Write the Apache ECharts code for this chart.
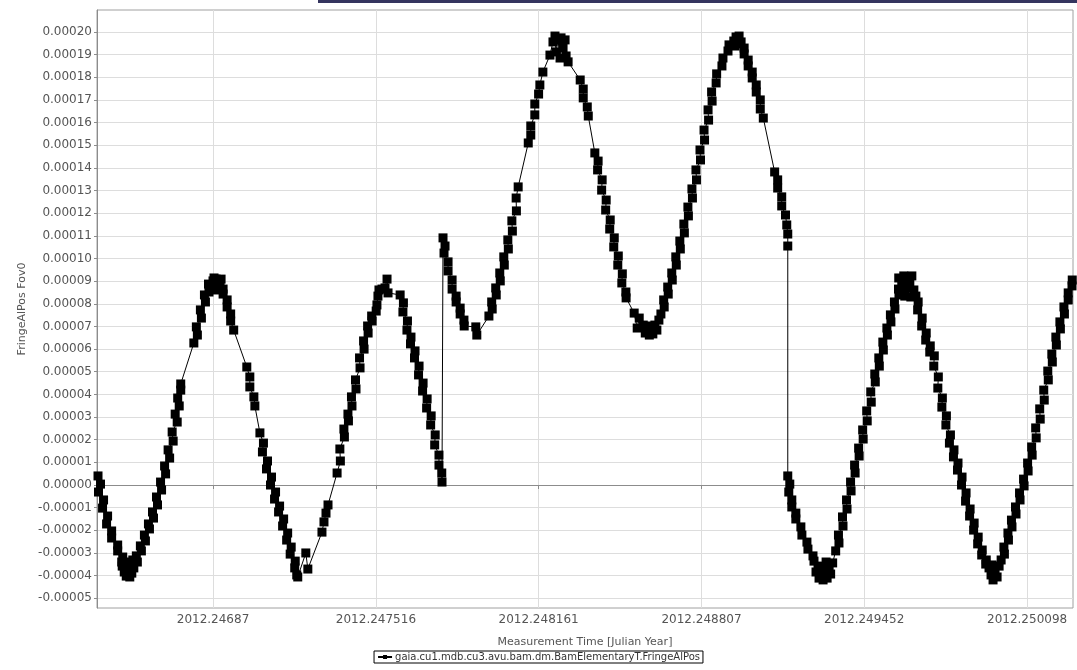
<!DOCTYPE html>
<html>
<head>
<meta charset="utf-8">
<script src="https://cdn.jsdelivr.net/npm/echarts@6/dist/echarts.min.js"></script>
<style>
  html, body { margin: 0; padding: 0; background: #ffffff; }
  #chart { width: 1077px; height: 670px; }
</style>
</head>
<body>
<div id="chart"></div>
<script>
// Sample times are offsets from TIME_ORIGIN in micro-years (1e-6 Julian year);
// FringeAlPos values are stored in units of 1e-5.
const TIME_ORIGIN = 2012.246;
const TIME_UNIT = 1e-6;
const VALUE_UNIT = 1e-5;

const seriesName = 'gaia.cu1.mdb.cu3.avu.bam.dm.BamElementaryT.FringeAlPos';

const xTickLabels = ['2012.24687', '2012.247516', '2012.248161', '2012.248807', '2012.249452', '2012.250098'];
const yTickSteps = [-5, -4, -3, -2, -1, 0, 1, 2, 3, 4, 5, 6, 7, 8, 9, 10, 11, 12, 13, 14, 15, 16, 17, 18, 19, 20];

// [time offset (1e-6 yr), FringeAlPos (1e-5)]
const fringeSamples = [
  [414,0.40],[424,0.04],[416,-0.31],[436,-0.66],[432,-1.02],[452,-1.37],[448,-1.72],[468,-2.03],[468,-2.34],[492,-2.65],
  [492,-2.91],[512,-3.18],[508,-3.40],[510,-3.58],[526,-3.62],[518,-3.84],[530,-3.80],[526,-4.02],[538,-3.40],[534,-3.75],
  [540,-4.06],[552,-3.31],[548,-3.89],[556,-3.66],
  [570,-3.40],[566,-3.13],[586,-2.91],[582,-2.69],[602,-2.47],[598,-2.21],[618,-1.94],[614,-1.72],[634,-1.46],[630,-1.19],
  [650,-0.88],[646,-0.53],[666,-0.22],[662,0.13],[682,0.49],[678,0.84],[698,1.19],[692,1.55],[712,1.94],[708,2.34],
  [728,2.78],[720,3.13],[736,3.49],[730,3.84],[742,4.19],[742,4.46],
  [794,6.27],[808,6.62],[804,6.98],[824,7.37],[820,7.73],[840,8.08],[836,8.39],[856,8.65],[854,8.52],[852,8.87],
  [870,8.74],[870,9.01],[874,9.14],[882,9.09],[886,8.61],[890,8.96],[898,8.83],[902,9.09],[910,8.65],[910,8.43],
  [926,8.17],[926,7.86],[940,7.55],[940,7.24],[952,6.84],
  [1004,5.21],[1016,4.77],[1016,4.33],[1032,3.89],[1036,3.49],
  [1056,2.30],[1070,1.85],[1066,1.46],[1086,1.06],[1082,0.71],[1102,0.35],[1098,0.00],[1118,-0.31],[1114,-0.62],[1134,-0.93],
  [1130,-1.19],[1150,-1.50],[1146,-1.81],[1166,-2.12],[1162,-2.43],[1180,-2.74],[1176,-3.05],[1196,-3.36],[1194,-3.66],[1202,-3.97],
  [1206,-4.06],[1238,-3.00],[1246,-3.71],
  [1302,-2.08],[1310,-1.63],[1318,-1.24],[1326,-0.88],
  [1362,0.53],[1375,1.06],[1373,1.59],[1391,2.12],[1389,2.47],[1407,2.83],[1405,3.13],[1421,3.49],[1419,3.89],[1437,4.24],
  [1435,4.64],[1453,5.17],[1451,5.61],[1469,6.00],[1467,6.36],[1485,6.71],[1483,7.02],[1501,7.24],[1499,7.46],[1517,7.68],
  [1520,7.95],[1524,8.34],[1528,8.61],[1540,8.65],[1552,8.70],[1560,9.09],[1564,8.48],
  [1612,8.39],[1625,8.04],[1623,7.64],[1641,7.24],[1639,6.84],[1655,6.53],[1653,6.23],[1671,5.92],[1669,5.61],[1687,5.25],
  [1685,4.86],[1703,4.50],[1701,4.15],[1719,3.80],[1717,3.40],[1735,3.05],[1733,2.65],[1751,2.21],[1749,1.77],[1766,1.32],
  [1766,0.88],[1777,0.53],[1778,0.13],
  [1782,10.91],[1790,10.55],[1786,10.24],[1802,9.85],[1802,9.45],[1818,9.05],[1818,8.65],[1834,8.34],[1834,8.08],[1850,7.81],
  [1850,7.55],[1865,7.28],[1866,7.02],
  [1912,6.98],[1916,6.62],
  [1964,7.46],[1977,7.77],[1975,8.08],[1993,8.39],[1991,8.70],[2009,9.01],[2007,9.36],[2025,9.71],[2023,10.07],[2041,10.42],
  [2039,10.82],[2057,11.21],[2055,11.66],[2073,12.10],[2072,12.67],[2080,13.16],
  [2120,15.10],[2130,15.45],[2130,15.85],[2146,16.34],[2146,16.82],[2161,17.26],[2166,17.66],[2178,18.23],
  [2206,18.98],[2218,19.56],[2226,19.82],[2230,19.12],[2238,19.65],[2246,18.85],[2250,19.74],[2258,19.29],[2266,19.65],[2270,18.94],
  [2278,18.68],
  [2326,17.88],[2338,17.48],[2338,17.09],[2354,16.69],[2358,16.29],
  [2384,14.66],[2397,14.30],[2395,13.91],[2413,13.47],[2411,13.02],[2429,12.58],[2427,12.14],[2445,11.70],[2443,11.30],[2461,10.91],
  [2459,10.51],[2477,10.11],[2475,9.71],[2493,9.32],[2491,8.92],[2507,8.52],[2508,8.26],
  [2540,7.59],[2552,6.93],[2560,7.37],
  [2576,7.06],[2584,6.71],[2592,7.02],[2600,6.62],[2606,6.89],[2614,6.67],[2622,7.06],[2630,6.84],[2638,7.28],
  [2646,7.55],[2659,7.86],[2657,8.17],[2675,8.43],[2673,8.74],[2691,9.05],[2689,9.36],[2707,9.71],[2705,10.07],[2723,10.42],
  [2721,10.77],[2739,11.13],[2737,11.52],[2755,11.88],[2753,12.27],[2771,12.67],[2769,13.07],[2787,13.47],[2785,13.91],[2803,14.35],
  [2801,14.79],[2819,15.23],[2817,15.67],[2835,16.11],[2833,16.56],[2849,16.95],[2847,17.35],[2865,17.75],[2867,18.15],[2888,18.50],
  [2892,18.85],[2912,19.16],[2916,19.43],[2935,19.60],[2940,19.38],[2944,19.78],[2956,19.82],[2960,19.47],
  [2964,19.56],[2976,19.29],[2976,19.03],[2992,18.76],[2992,18.50],[3008,18.23],[3008,17.97],[3024,17.66],[3024,17.35],[3040,17.00],
  [3040,16.60],[3052,16.20],
  [3097,13.82],[3109,13.47],[3109,13.11],[3125,12.72],[3125,12.32],[3140,11.92],[3145,11.48],[3149,11.08],[3149,10.55],
  [3149,0.40],
  [3157,0.04],[3153,-0.31],[3165,-0.66],[3165,-0.97],[3181,-1.24],[3181,-1.50],[3201,-1.85],[3205,-2.21],[3225,-2.52],[3229,-2.83],
  [3249,-3.13],[3253,-3.36],[3269,-3.58],[3261,-3.84],[3273,-4.11],[3281,-3.75],[3289,-4.19],[3297,-3.89],[3301,-3.40],[3305,-4.11],
  [3313,-3.66],[3319,-3.93],[3327,-3.44],
  [3339,-2.91],[3352,-2.56],[3350,-2.21],[3368,-1.81],[3366,-1.41],[3384,-1.06],[3382,-0.66],[3400,-0.26],[3398,0.13],[3416,0.53],
  [3414,0.88],[3432,1.28],[3430,1.63],[3448,2.03],[3446,2.43],[3464,2.83],[3462,3.27],[3480,3.66],[3478,4.11],[3496,4.55],
  [3494,4.90],[3512,5.25],[3510,5.61],[3528,5.96],[3526,6.31],[3544,6.62],[3542,6.93],[3558,7.20],[3556,7.51],[3574,7.77],
  [3572,8.08],[3590,8.39],[3588,8.65],
  [3589,9.14],[3601,8.92],[3609,9.23],[3613,8.34],[3617,8.70],[3625,9.18],[3633,8.87],[3637,8.30],[3641,9.23],[3649,8.61],
  [3657,8.34],
  [3666,8.08],[3664,7.73],[3682,7.37],[3680,7.02],[3698,6.71],[3696,6.40],[3714,6.14],[3712,5.87],[3730,5.70],[3728,5.25],
  [3746,4.77],[3744,4.28],[3762,3.84],[3760,3.44],[3778,3.05],[3776,2.65],[3794,2.21],[3790,1.85],[3808,1.55],[3806,1.24],
  [3824,0.97],[3822,0.66],[3840,0.35],[3838,0.00],[3856,-0.35],[3854,-0.71],[3872,-1.06],[3870,-1.37],[3888,-1.68],[3886,-1.99],
  [3904,-2.30],[3902,-2.60],[3920,-2.87],[3918,-3.09],[3936,-3.31],[3934,-3.49],[3947,-3.66],
  [3955,-3.97],[3959,-3.53],[3963,-4.19],[3971,-3.80],[3979,-4.06],[3987,-3.58],
  [3995,-3.31],[4008,-3.05],[4006,-2.74],[4024,-2.43],[4022,-2.12],[4038,-1.85],[4036,-1.55],[4054,-1.28],[4052,-0.97],[4070,-0.66],
  [4068,-0.35],[4086,-0.04],[4084,0.26],[4102,0.62],[4100,0.97],[4118,1.32],[4116,1.68],[4134,2.08],[4132,2.52],[4150,2.91],
  [4148,3.36],[4166,3.75],[4164,4.19],[4182,4.64],[4180,5.03],[4198,5.43],[4196,5.78],[4214,6.18],[4212,6.53],[4230,6.89],
  [4228,7.20],[4246,7.55],[4244,7.86],[4261,8.17],[4261,8.48],[4276,8.79],[4277,9.05]
];

const seriesData = fringeSamples.map(([t, v]) => [TIME_ORIGIN + t * TIME_UNIT, v * VALUE_UNIT]);
const xTickValues = xTickLabels.map(Number);
const yTickValues = yTickSteps.map(s => s * VALUE_UNIT);

const FONT = 'DejaVu Sans';
const labelColor = '#555555';
const gridColor = '#dddddd';
const axisColor = '#8c8c8c';

const chart = echarts.init(document.getElementById('chart'), null, { renderer: 'canvas' });

chart.setOption({
  animation: false,
  backgroundColor: '#ffffff',
  textStyle: { fontFamily: FONT },
  graphic: [{
    type: 'rect',
    left: 318, top: 0,
    shape: { width: 759, height: 3 },
    style: { fill: '#35355f' },
    silent: true
  }],
  grid: {
    left: 97, right: 4, top: 10, bottom: 62,
    show: true,
    borderColor: '#a0a0a0',
    borderWidth: 1,
    backgroundColor: '#ffffff'
  },
  legend: {
    data: [seriesName],
    left: 'center',
    top: 651,
    padding: [1, 3, 1, 3],
    borderColor: '#000000',
    borderWidth: 1,
    borderRadius: 0,
    itemWidth: 14,
    itemHeight: 5,
    itemGap: 4,
    textStyle: { fontFamily: FONT, fontSize: 10, color: '#333333', padding: [0, 0, 0, -2] }
  },
  xAxis: {
    type: 'value',
    min: 2012.24641,
    max: 2012.25028,
    name: 'Measurement Time [Julian Year]',
    nameLocation: 'middle',
    nameGap: 29,
    nameTextStyle: { fontFamily: FONT, fontSize: 11, color: labelColor },
    axisLine: { show: true, lineStyle: { color: axisColor } },
    axisTick: { show: true, customValues: xTickValues, inside: false, length: 4, lineStyle: { color: axisColor } },
    axisLabel: {
      customValues: xTickValues,
      fontFamily: FONT, fontSize: 12, color: labelColor, margin: 6,
      formatter: v => {
        const i = xTickValues.findIndex(x => Math.abs(x - v) < 1e-7);
        return i >= 0 ? xTickLabels[i] : '';
      }
    },
    splitLine: { show: true, customValues: xTickValues, lineStyle: { color: gridColor, width: 1 } }
  },
  yAxis: {
    type: 'value',
    min: -5.43e-5,
    max: 20.97e-5,
    name: 'FringeAlPos Fov0',
    nameLocation: 'middle',
    nameGap: 68,
    nameTextStyle: { fontFamily: FONT, fontSize: 11, color: labelColor },
    axisLine: { show: true, lineStyle: { color: axisColor } },
    axisTick: { show: true, customValues: yTickValues, length: 3, lineStyle: { color: axisColor } },
    axisLabel: {
      customValues: yTickValues,
      fontFamily: FONT, fontSize: 12, color: labelColor, margin: 5,
      formatter: v => v.toFixed(5)
    },
    splitLine: { show: true, customValues: yTickValues, lineStyle: { color: gridColor, width: 1 } }
  },
  series: [{
    name: seriesName,
    type: 'line',
    data: seriesData,
    symbol: 'rect',
    symbolSize: 9,
    showSymbol: true,
    itemStyle: { color: '#000000' },
    lineStyle: { color: '#000000', width: 1 },
    emphasis: { disabled: true }
  }]
});
</script>
</body>
</html>
